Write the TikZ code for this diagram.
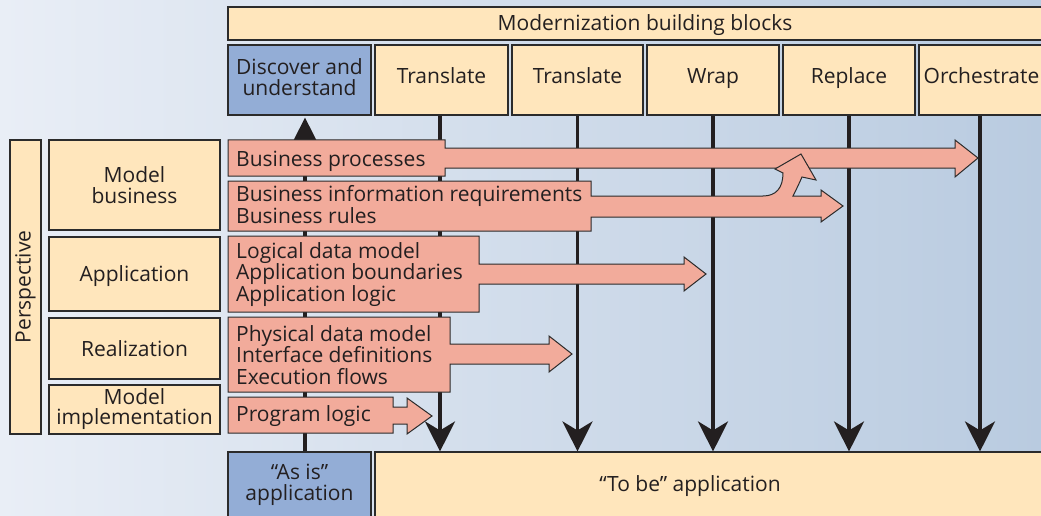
\documentclass[tikz,border=0pt]{standalone}
\usepackage{fontspec}
\setmainfont{Open Sans}
\usetikzlibrary{arrows.meta}
\definecolor{cream}{HTML}{FFE6BC}
\definecolor{blueb}{HTML}{93ADD6}
\definecolor{pinkf}{HTML}{F2AB9B}
\definecolor{edgec}{HTML}{2B2B2B}
\definecolor{ink}{HTML}{231F20}
\definecolor{bgL}{HTML}{E9EEF6}
\definecolor{bgR}{HTML}{B9CBE0}
\newcommand\dfont{\fontsize{21}{21.5}\selectfont}
\pgfdeclarelayer{bglayer}
\pgfdeclarelayer{midlayer}
\pgfsetlayers{bglayer,midlayer,main}
\newcommand\bx[7]{\node[#6,minimum width={#4-#2},minimum height={#5-#3}] (#1) at ({(#2+#4)/2},{(#3+#5)/2}) {#7};}
\begin{document}
\begin{tikzpicture}[x=1pt,y=-1pt,
  box/.style={draw=edgec,line width=1.1pt,fill=cream,inner sep=0pt,font=\dfont,align=center,text=ink},
  bbox/.style={box,fill=blueb},
  one/.style={text height=15pt,text depth=0pt},
  col/.style={box,text height=15pt,text depth=8pt},
  pshape/.style={draw=edgec,line width=1pt,fill=pinkf,line join=miter},
  txt/.style={inner sep=0pt,font=\dfont,align=left,text=ink,anchor=west},
  vline/.style={draw=ink,line width=3.5pt,-{Stealth[length=30pt,width=30pt,inset=9pt]}}]
\clip (0,0) rectangle (1041,516);
\begin{pgfonlayer}{bglayer}
\shade[left color=bgL,right color=bgR] (0,0) rectangle (1041,516);
\end{pgfonlayer}
% pink arrow shapes
\path[pshape] (228,140) -- (445,140) -- (445,148) -- (955,148) -- (955,140) -- (978,158) -- (955,177) -- (955,168) -- (445,168) -- (445,176) -- (228,176) -- cycle;
\path[pshape] (228,181) -- (591,181) -- (591,196) -- (763,196) .. controls (776,196) and (783,188) .. (783,173) -- (775,169) -- (801,154) -- (816,180) -- (802,177) .. controls (798,186) and (795,192) .. (793,196) -- (821,196) -- (821,190) -- (843,206) -- (821,222) -- (821,217) -- (591,217) -- (591,231) -- (228,231) -- cycle;
\path[pshape] (228,236) -- (479,236) -- (479,264) -- (684,264) -- (684,257) -- (706,274) -- (684,291) -- (684,284) -- (479,284) -- (479,312) -- (228,312) -- cycle;
\path[pshape] (228,317) -- (450,317) -- (450,344) -- (549,344) -- (549,336) -- (572,354) -- (549,372) -- (549,364) -- (450,364) -- (450,392) -- (228,392) -- cycle;
\path[pshape] (228,397) -- (393,397) -- (393,407) -- (407,407) -- (407,398) -- (432,416) -- (407,434) -- (407,424) -- (393,424) -- (393,433) -- (228,433) -- cycle;
% boxes
\bx{top}{228}{7}{1062}{40}{box,one}{Modernization building blocks}
\bx{disc}{228}{45}{371}{115}{bbox}{Discover and\\understand\rule[-6pt]{0pt}{6pt}}
\bx{tra}{375}{45}{508}{115}{col}{Translate}
\bx{trb}{512}{45}{643}{115}{col}{Translate}
\bx{wrap}{647}{45}{779}{115}{col}{Wrap}
\bx{repl}{783}{45}{915}{115}{col}{Replace}
\bx{orch}{919}{45}{1044}{115}{col}{Orchestrate}
\node[box,rotate=90,minimum width=294,minimum height=31] (persp) at (25.5,287) {Perspective};
\bx{mb}{49}{140}{220}{230}{box}{Model\\business}
\bx{app}{49}{237}{220}{311}{box,one}{Application}
\bx{real}{49}{318}{220}{379}{box,one}{Realization}
\bx{mimp}{49}{385}{220}{434}{box}{Model\\[-1.5pt]implementation}
\bx{asis}{228}{452}{371}{518}{bbox}{“As is”\\application}
\bx{tobe}{375}{452}{1062}{518}{box}{}
\node[txt,anchor=base] (tobetxt) at (690,491.7) {“To be” application};
% texts in pink shapes
\node[txt,anchor=base west] (bp) at (236,166.7) {Business processes};
\node[txt] (bi) at (236,204.5) {Business information requirements\\Business rules};
\node[txt] (ld) at (236,274.5) {Logical data model\\Application boundaries\\Application logic};
\node[txt] (pd) at (236,355) {Physical data model\\Interface definitions\\Execution flows};
\node[txt,anchor=base west] (pl) at (236,421.7) {Program logic};
% vertical arrows
\begin{pgfonlayer}{midlayer}
\draw[vline] ([xshift=-1.5pt]tra.south) -- ([xshift=-1.5pt]tra.south |- tobe.north);
\draw[vline] (trb.south) -- (trb.south |- tobe.north);
\draw[vline] (wrap.south) -- (wrap.south |- tobe.north);
\draw[vline] (repl.south) -- (repl.south |- tobe.north);
\draw[vline] ([xshift=-1.5pt]orch.south) -- ([xshift=-1.5pt]orch.south |- tobe.north);
\draw[vline,shorten >=2pt] ([xshift=5.5pt]asis.north) -- ([xshift=5.5pt]disc.south);
\end{pgfonlayer}
\end{tikzpicture}
\end{document}
